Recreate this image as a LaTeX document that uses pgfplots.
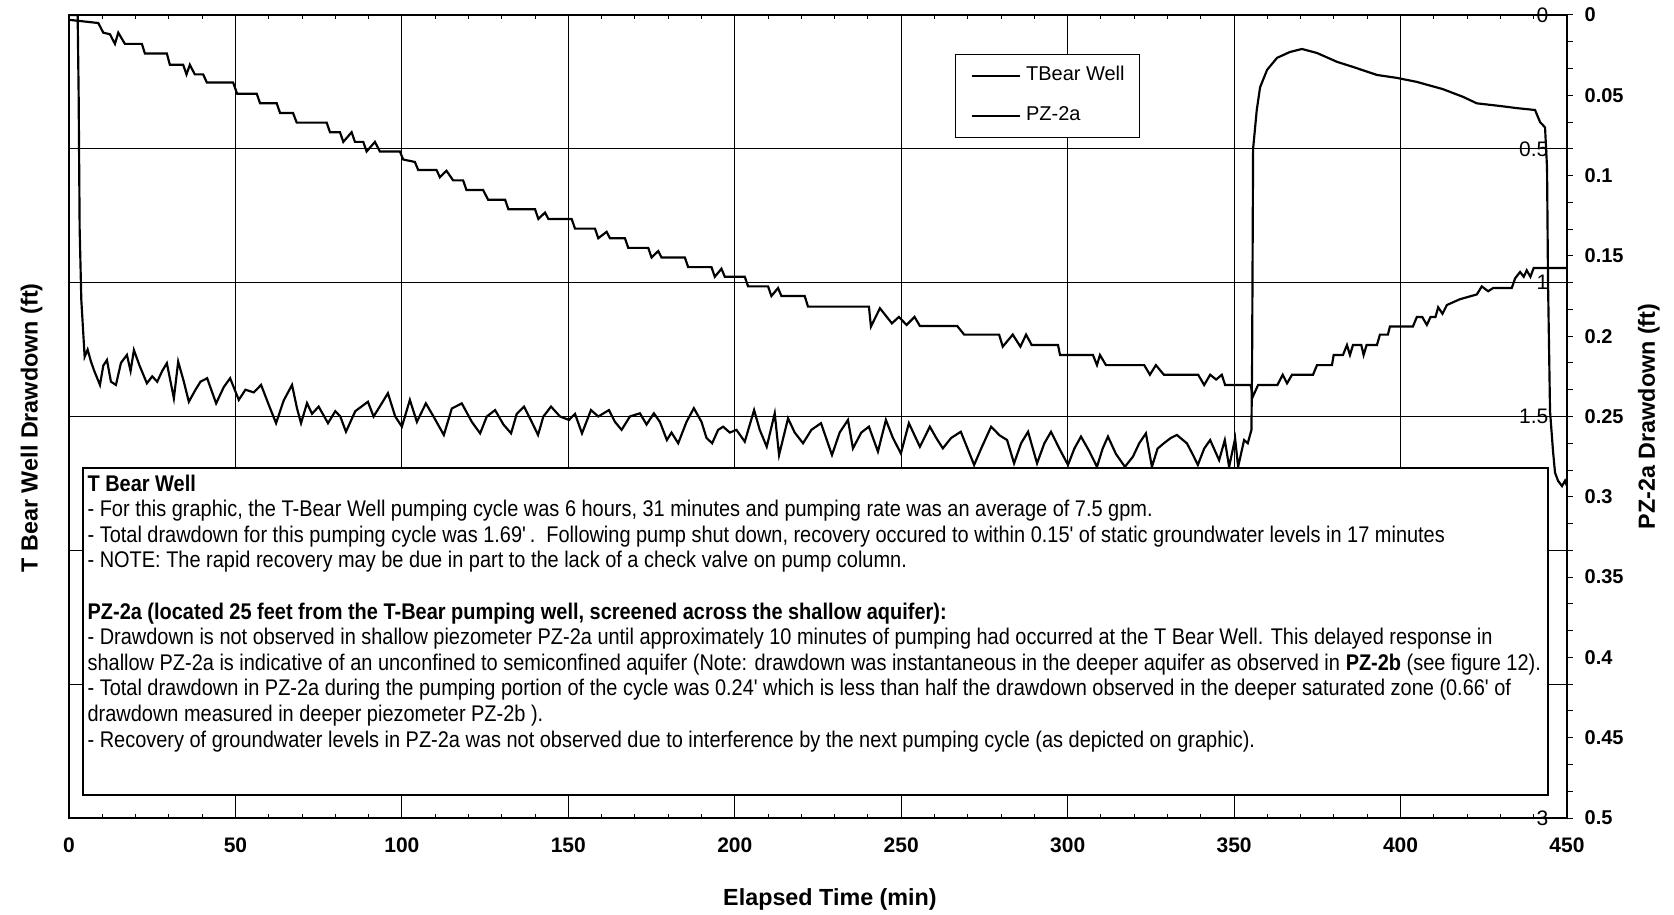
\documentclass[border=0pt]{standalone}
\usepackage{fontspec}
\setmainfont{Liberation Sans}
\newfontfamily\narrowfont[FakeStretch=0.88]{Liberation Sans}
\usepackage{pgfplots}
\pgfplotsset{compat=1.18}

\begin{document}
\begin{tikzpicture}
\pgfplotsset{
  every axis/.append style={
    scale only axis, width=449.4pt, height=240.9pt,
    xmin=0, xmax=450,
    /pgf/number format/assume math mode=true,
  },
}
% left axis: T Bear Well (0-3 ft, reversed)
\begin{axis}[
  ymin=0, ymax=3, y dir=reverse,
  xtick={0,50,...,450}, minor x tick num=4,
  ytick={0,0.5,1,1.5,2,2.5,3}, yticklabels={0,0.5,1,1.5,,,3},
  ytick pos=left, yticklabel pos=right,
  tick align=inside, major tick length=0pt, minor tick length=1.2pt,
  tick style={black, line width=0.3pt},
  grid=major, major grid style={black, line width=0.3pt},
  axis line style={line width=0.6pt},
  xticklabel style={font=\bfseries\fontsize{6.3}{7}\selectfont, anchor=center, yshift=-8.2pt},
  yticklabel style={font=\fontsize{6.3}{7}\selectfont, anchor=east, inner sep=0pt, xshift=-5.4pt},
  xlabel={Elapsed Time (min)}, ylabel={T Bear Well Drawdown (ft)},
  label style={font=\bfseries\fontsize{7}{8}\selectfont},
  xlabel style={at={(axis description cs:0.508,-0.102)}, anchor=center},
  ylabel style={at={(axis description cs:-0.025,0.486)}, anchor=center},
]
\addplot[black, line width=0.65pt] coordinates {
(0,0) (2.6,0) (2.9,0.3) (3.2,0.8) (3.7,1.065) (4.7,1.277) (5.6,1.25) (6.6,1.295)
(7.6,1.33) (9.3,1.382) (10.3,1.31) (11.4,1.289) (12.6,1.37) (14.1,1.382) (15.6,1.30)
(17.4,1.27) (18.5,1.33) (19.5,1.252) (21.2,1.31) (23.4,1.376) (25,1.35) (26.5,1.37)
(28,1.33) (29.4,1.301) (31.5,1.432) (32.8,1.295) (34.5,1.37) (36,1.445) (38,1.40)
(39.5,1.37) (41.5,1.357) (44.2,1.451) (46.5,1.39) (48.4,1.357) (51,1.438) (53,1.40)
(55.5,1.41) (57.7,1.382) (60.4,1.469) (62.2,1.525) (64.5,1.44) (67,1.382) (68.5,1.47)
(69.7,1.525) (71.5,1.45) (73,1.49) (75,1.463) (77.8,1.525) (80,1.48) (81.5,1.50)
(83.2,1.557) (86,1.48) (89.8,1.445) (91.5,1.50) (93.5,1.46) (95.8,1.413) (98,1.50)
(100,1.538) (102.4,1.438) (104.5,1.52) (107.2,1.451) (109.5,1.50) (112.6,1.569)
(115,1.47) (118,1.451) (121,1.52) (123.5,1.563) (125.5,1.50) (128,1.476) (130.5,1.53)
(132.8,1.563) (134.5,1.49) (136.7,1.463) (139,1.52) (140.9,1.569) (142.5,1.50)
(144.8,1.463) (147.5,1.50) (150.2,1.513) (152,1.49) (154.1,1.563) (156.8,1.476)
(159,1.50) (162.2,1.476) (164,1.52) (166,1.55) (168.5,1.50) (171.5,1.488) (173.5,1.53)
(175.7,1.488) (177.5,1.52) (179.6,1.588) (181,1.56) (183,1.6) (185.5,1.52) (187.7,1.469)
(190,1.52) (191.5,1.58) (193.2,1.6) (195,1.55) (196.5,1.538) (198.5,1.56) (200.5,1.55)
(203,1.594) (205.8,1.476) (207.5,1.55) (209.6,1.613) (212,1.488) (213.3,1.644)
(216,1.507) (218,1.56) (220.5,1.6) (223,1.55) (225.9,1.525) (229.2,1.644) (231.5,1.56)
(234,1.513) (235.5,1.619) (238,1.56) (240.3,1.538) (243,1.631) (245.4,1.513)
(247.5,1.58) (249.9,1.638) (252.3,1.525) (255.6,1.613) (258.6,1.538) (260.5,1.58)
(262.5,1.619) (265,1.58) (267.9,1.557) (271.9,1.681) (274,1.62) (277,1.538)
(279.5,1.57) (281.8,1.588) (283.9,1.675) (286,1.60) (288.1,1.557) (290.8,1.675)
(293,1.60) (295,1.557) (297.5,1.62) (300.1,1.681) (302,1.62) (304,1.575) (306.5,1.63)
(308.8,1.688) (310.5,1.62) (312.1,1.575) (314.5,1.64) (317.2,1.688) (319.6,1.65)
(321.5,1.60) (323.5,1.563) (325.3,1.688) (327,1.62) (328.9,1.6) (331,1.58)
(332.8,1.569) (335.8,1.6) (337.5,1.64) (339.1,1.681) (341,1.62) (342.8,1.588)
(345.5,1.663) (347.2,1.588) (348.5,1.688) (350.3,1.582) (351.2,1.688) (353,1.588)
(354.1,1.6) (355.2,1.55) (355.4,1.30) (355.5,1.04) (355.7,0.50) (356.8,0.355)
(357.8,0.27) (359.9,0.205) (362.9,0.16) (366.8,0.138) (370.4,0.127) (374.9,0.142)
(380.9,0.175) (385.7,0.194) (392.9,0.224) (398.9,0.235) (404.9,0.25) (412.7,0.277)
(418.8,0.306) (422.9,0.33) (429.9,0.34) (435,0.348) (440.4,0.355) (441.9,0.40)
(443.4,0.42) (444,0.57) (444.3,1.0) (444.9,1.48) (445.8,1.63) (446.4,1.71)
(447.3,1.74) (448.5,1.76) (449.4,1.74) (450,1.76)
};
\end{axis}

% right axis: PZ-2a (0-0.5 ft, reversed)
\begin{axis}[
  ymin=0, ymax=0.5, y dir=reverse,
  axis x line=none, axis y line*=right,
  ytick={0,0.05,0.1,0.15,0.2,0.25,0.3,0.35,0.4,0.45,0.5},
  yticklabels={0,0.05,0.1,0.15,0.2,0.25,0.3,0.35,0.4,0.45,0.5},
  minor y tick num=2,
  tick align=outside, major tick length=1.8pt, minor tick length=1.8pt,
  tick style={black, line width=0.3pt},
  axis line style={-, line width=0.6pt},
  yticklabel style={font=\bfseries\fontsize{6}{7}\selectfont, anchor=west, inner sep=0pt, xshift=3.3pt},
  ylabel={PZ-2a Drawdown (ft)},
  ylabel style={font=\bfseries\fontsize{7}{8}\selectfont, at={(axis description cs:1.0547,0.5)}, anchor=center},
  legend style={at={(0.5915,0.952)}, anchor=north west, draw=black, line width=0.3pt,
    fill=white, font=\fontsize{6}{7}\selectfont, inner xsep=4.5pt, inner ysep=3.6pt,
    row sep=6.3pt, nodes={inner sep=0pt},
    /tikz/every odd column/.append style={column sep=1.5pt}},
  legend cell align=left,
  legend image code/.code={\draw[#1] (0pt,0pt) -- (14.5pt,0pt);},
]
\addlegendimage{black, line width=0.65pt}
\addlegendentry{TBear Well}
\addplot[black, line width=0.65pt] coordinates {
(0,0.003) (8.8,0.005) (10.3,0.011) (12.3,0.012) (13.8,0.018) (14.8,0.011) (16.8,0.018)
(21.9,0.018) (22.8,0.024) (29.4,0.024) (30.3,0.031) (34.3,0.031) (35.3,0.037)
(36.3,0.031) (37.8,0.037) (40.3,0.037) (41.4,0.042) (49.3,0.042) (50.5,0.049)
(56.4,0.049) (57.4,0.055) (62.4,0.055) (63.4,0.061) (67.3,0.061) (68.4,0.067)
(77.4,0.067) (78.4,0.073) (81.4,0.073) (82.4,0.079) (84.9,0.073) (85.9,0.079)
(88.4,0.079) (89.4,0.085) (91.9,0.079) (93.4,0.085) (99.4,0.085) (100.4,0.090)
(103.9,0.0915) (104.9,0.0965) (110.4,0.0965) (111.4,0.101) (113.4,0.097) (115.4,0.103)
(118.4,0.103) (119.4,0.109) (124.4,0.109) (125.9,0.115) (131,0.115) (132,0.121)
(140,0.121) (141,0.127) (143,0.123) (144,0.127) (151,0.127) (152,0.133) (158,0.133)
(159,0.139) (161.5,0.135) (162.5,0.139) (167,0.139) (168,0.145) (174,0.145)
(175,0.151) (177,0.147) (178,0.151) (185,0.151) (186,0.157) (193,0.157) (194,0.163)
(196,0.158) (197,0.163) (203,0.163) (204,0.169) (210,0.169) (211,0.175) (213,0.170)
(214,0.175) (221,0.175) (222,0.1816) (240.3,0.1816) (240.9,0.194) (243.6,0.1826)
(247.2,0.192) (249.3,0.188) (251.6,0.193) (254,0.188) (255.6,0.1936) (266.8,0.1936)
(268.9,0.199) (279.4,0.199) (280.5,0.2065) (283.5,0.199) (285.8,0.2065) (287.5,0.199)
(289.2,0.2055) (297.1,0.2055) (297.7,0.2117) (307.6,0.2117) (308.8,0.218)
(309.7,0.2117) (311.5,0.218) (323,0.218) (324.7,0.224) (326.5,0.218) (328.9,0.224)
(339.2,0.224) (341,0.2304) (342.8,0.224) (344.6,0.227) (346.3,0.224) (347.3,0.2304)
(355.0,0.2304) (355.6,0.2377) (357.2,0.2304) (363,0.2304) (364.6,0.224) (365.9,0.2293)
(367.4,0.224) (373.7,0.224) (374.9,0.218) (379.4,0.218) (379.9,0.2117) (382.7,0.2117)
(383.9,0.2055) (384.8,0.2117) (385.7,0.2055) (388.2,0.2055) (388.9,0.2117)
(389.8,0.2055) (392.9,0.2055) (393.8,0.199) (396.2,0.199) (396.8,0.194) (403.7,0.194)
(404.9,0.188) (406.5,0.188) (407.9,0.193) (409,0.188) (410.5,0.188) (411.3,0.182)
(412.6,0.186) (413.9,0.1806) (417.8,0.177) (422.9,0.174) (424.4,0.169) (426.3,0.172)
(427.8,0.170) (433.4,0.170) (434.4,0.164) (435.9,0.160) (437,0.163) (437.9,0.159)
(439,0.163) (440,0.1575) (450,0.1575)
};
\addlegendentry{PZ-2a}
% notes box over the lower part of the plot
\draw[fill=white, line width=0.6pt] (rel axis cs:0.00935,0.0286) rectangle (rel axis cs:0.9873,0.4359);
\node[anchor=north west, inner sep=0pt, align=left,
  font=\narrowfont\fontsize{6.8}{7.68}\selectfont] at (rel axis cs:0.0120,0.4284) {%
\textbf{T Bear Well}\\
- For this graphic, the T-Bear Well pumping cycle was 6 hours, 31 minutes and pumping rate was an average of 7.5 gpm.\\
- Total drawdown for this pumping cycle was 1.69'\,.\ \ Following pump shut down, recovery occured to within 0.15' of static groundwater levels in 17 minutes\\
- NOTE: The rapid recovery may be due in part to the lack of a check valve on pump column.\\[7.68pt]
\textbf{PZ-2a (located 25 feet from the T-Bear pumping well, screened across the shallow aquifer):}\\
- Drawdown is not observed in shallow piezometer PZ-2a until approximately 10 minutes of pumping had occurred at the T Bear Well. This delayed response in\\
shallow PZ-2a is indicative of an unconfined to semiconfined aquifer (Note: drawdown was instantaneous in the deeper aquifer as observed in \textbf{PZ-2b} (see figure 12).\\
- Total drawdown in PZ-2a during the pumping portion of the cycle was 0.24' which is less than half the drawdown observed in the deeper saturated zone (0.66' of\\
drawdown measured in deeper piezometer PZ-2b ).\\
- Recovery of groundwater levels in PZ-2a was not observed due to interference by the next pumping cycle (as depicted on graphic).};
\end{axis}
\pgfresetboundingbox
\path[use as bounding box] (-20.7pt,-29.1pt) rectangle (481.5pt,245.4pt);
\end{tikzpicture}
\end{document}
